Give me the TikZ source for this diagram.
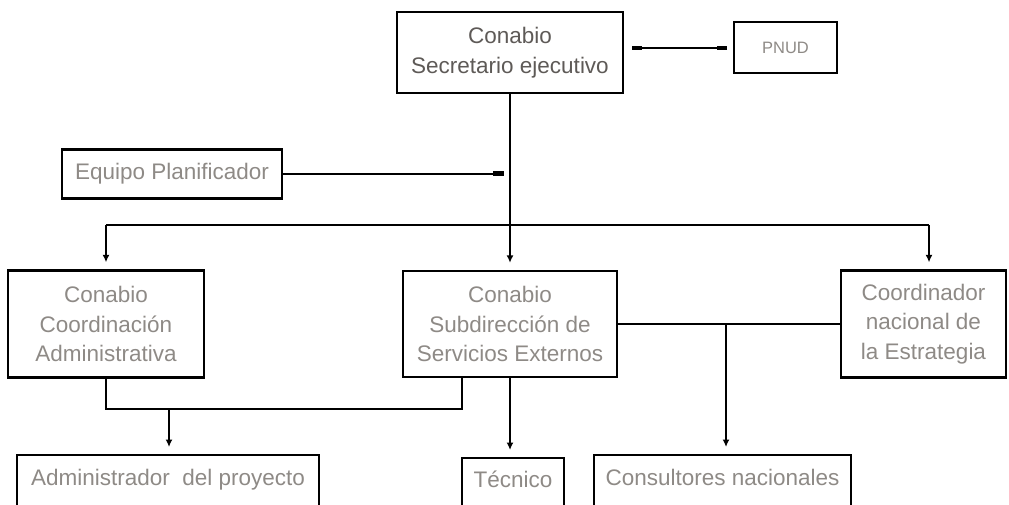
\documentclass[tikz,border=0pt]{standalone}
\usepackage{fontspec}
\setmainfont{Liberation Sans}
\usetikzlibrary{arrows.meta,calc}
\definecolor{txtgray}{HTML}{8E8A86}
\definecolor{txtdark}{HTML}{5E5A57}
\begin{document}
\begin{tikzpicture}[x=1pt,y=-1pt,
  box/.style={draw=black, line width=2.3pt, inner sep=0pt, align=center,
    text=txtgray, font=\fontsize{22.5}{29.5}\selectfont},
  botbox/.style={box, anchor=north, minimum height=64pt, text height=16pt, text depth=19pt},
  conn/.style={line width=2.2pt, draw=black},
  arr/.style={conn, -{Latex[length=7.5pt,width=7pt]}, shorten >=7pt},
  endmark/.style={line width=4.5pt, draw=black}]
\useasboundingbox (0,0) rectangle (1009,504);

% nodes
\node[box, text=txtdark, minimum width=226pt, minimum height=81pt] (top) at (510,52.5) {Conabio\\Secretario ejecutivo};
\node[box, minimum width=103pt, minimum height=51pt, font=\fontsize{16.5}{20}\selectfont] (pnud) at (785.5,47.5) {PNUD};
\node[box, minimum width=220pt, minimum height=49pt] (equ) at (172,174) {Equipo Planificador};
\node[box, minimum width=196pt, minimum height=107pt] (lft) at (106,324) {Conabio\\Coordinación\\Administrativa};
\node[box, minimum width=214pt, minimum height=106pt] (mid) at (510,324) {Conabio\\Subdirección de\\Servicios Externos};
\node[box, minimum width=165pt, minimum height=107pt] (rgt) at (923.5,324) {Coordinador\\nacional de\\la Estrategia};
\node[botbox, minimum width=302pt] (adm) at (168,454) {Administrador\ \ del proyecto};
\node[botbox, minimum width=102pt, text depth=21pt] (tec) at (513,457) {Técnico};
\node[botbox, minimum width=257pt] (con) at (722.5,454) {Consultores nacionales};

% coordinates
\coordinate (pa) at (632,48);
\coordinate (pb) at (727,48);
\coordinate (eqEnd) at (504,174);
\coordinate (busL) at (106,225);
\coordinate (busR) at (929,225);
\coordinate (jn) at (726,324);
\coordinate (lb) at (106,409);
\coordinate (mb) at (462,377);
\coordinate (mbb) at (462,409);
\coordinate (ab) at (169,409);

% PNUD link
\draw[conn] (pa) -- (pb);
\draw[endmark] (pa) -- ++(10,0);
\draw[endmark] (pb) -- ++(-10,0);

% main vertical
\draw[arr] (top.south) -- (mid.north);
% equipo
\draw[conn] (equ.east) -- (eqEnd);
\draw[endmark] ($(eqEnd)+(-11,-0.5)$) -- ($(eqEnd)+(0,-0.5)$);
% bus
\draw[conn] (busL) -- (busR);
\draw[arr] (busL) -- (lft.north);
\draw[arr] (busR) -- (busR |- rgt.north);

% row 2 links
\draw[conn] (mid.east) -- (rgt.west);
\draw[arr] (jn) -- (jn |- con.north);
\draw[arr] (mid.south) -- (mid.south |- tec.north);
\draw[conn] (lft.south) -- (lb) -- (mbb) -- (mb);
\draw[arr] (ab) -- (ab |- adm.north);
\end{tikzpicture}
\end{document}
